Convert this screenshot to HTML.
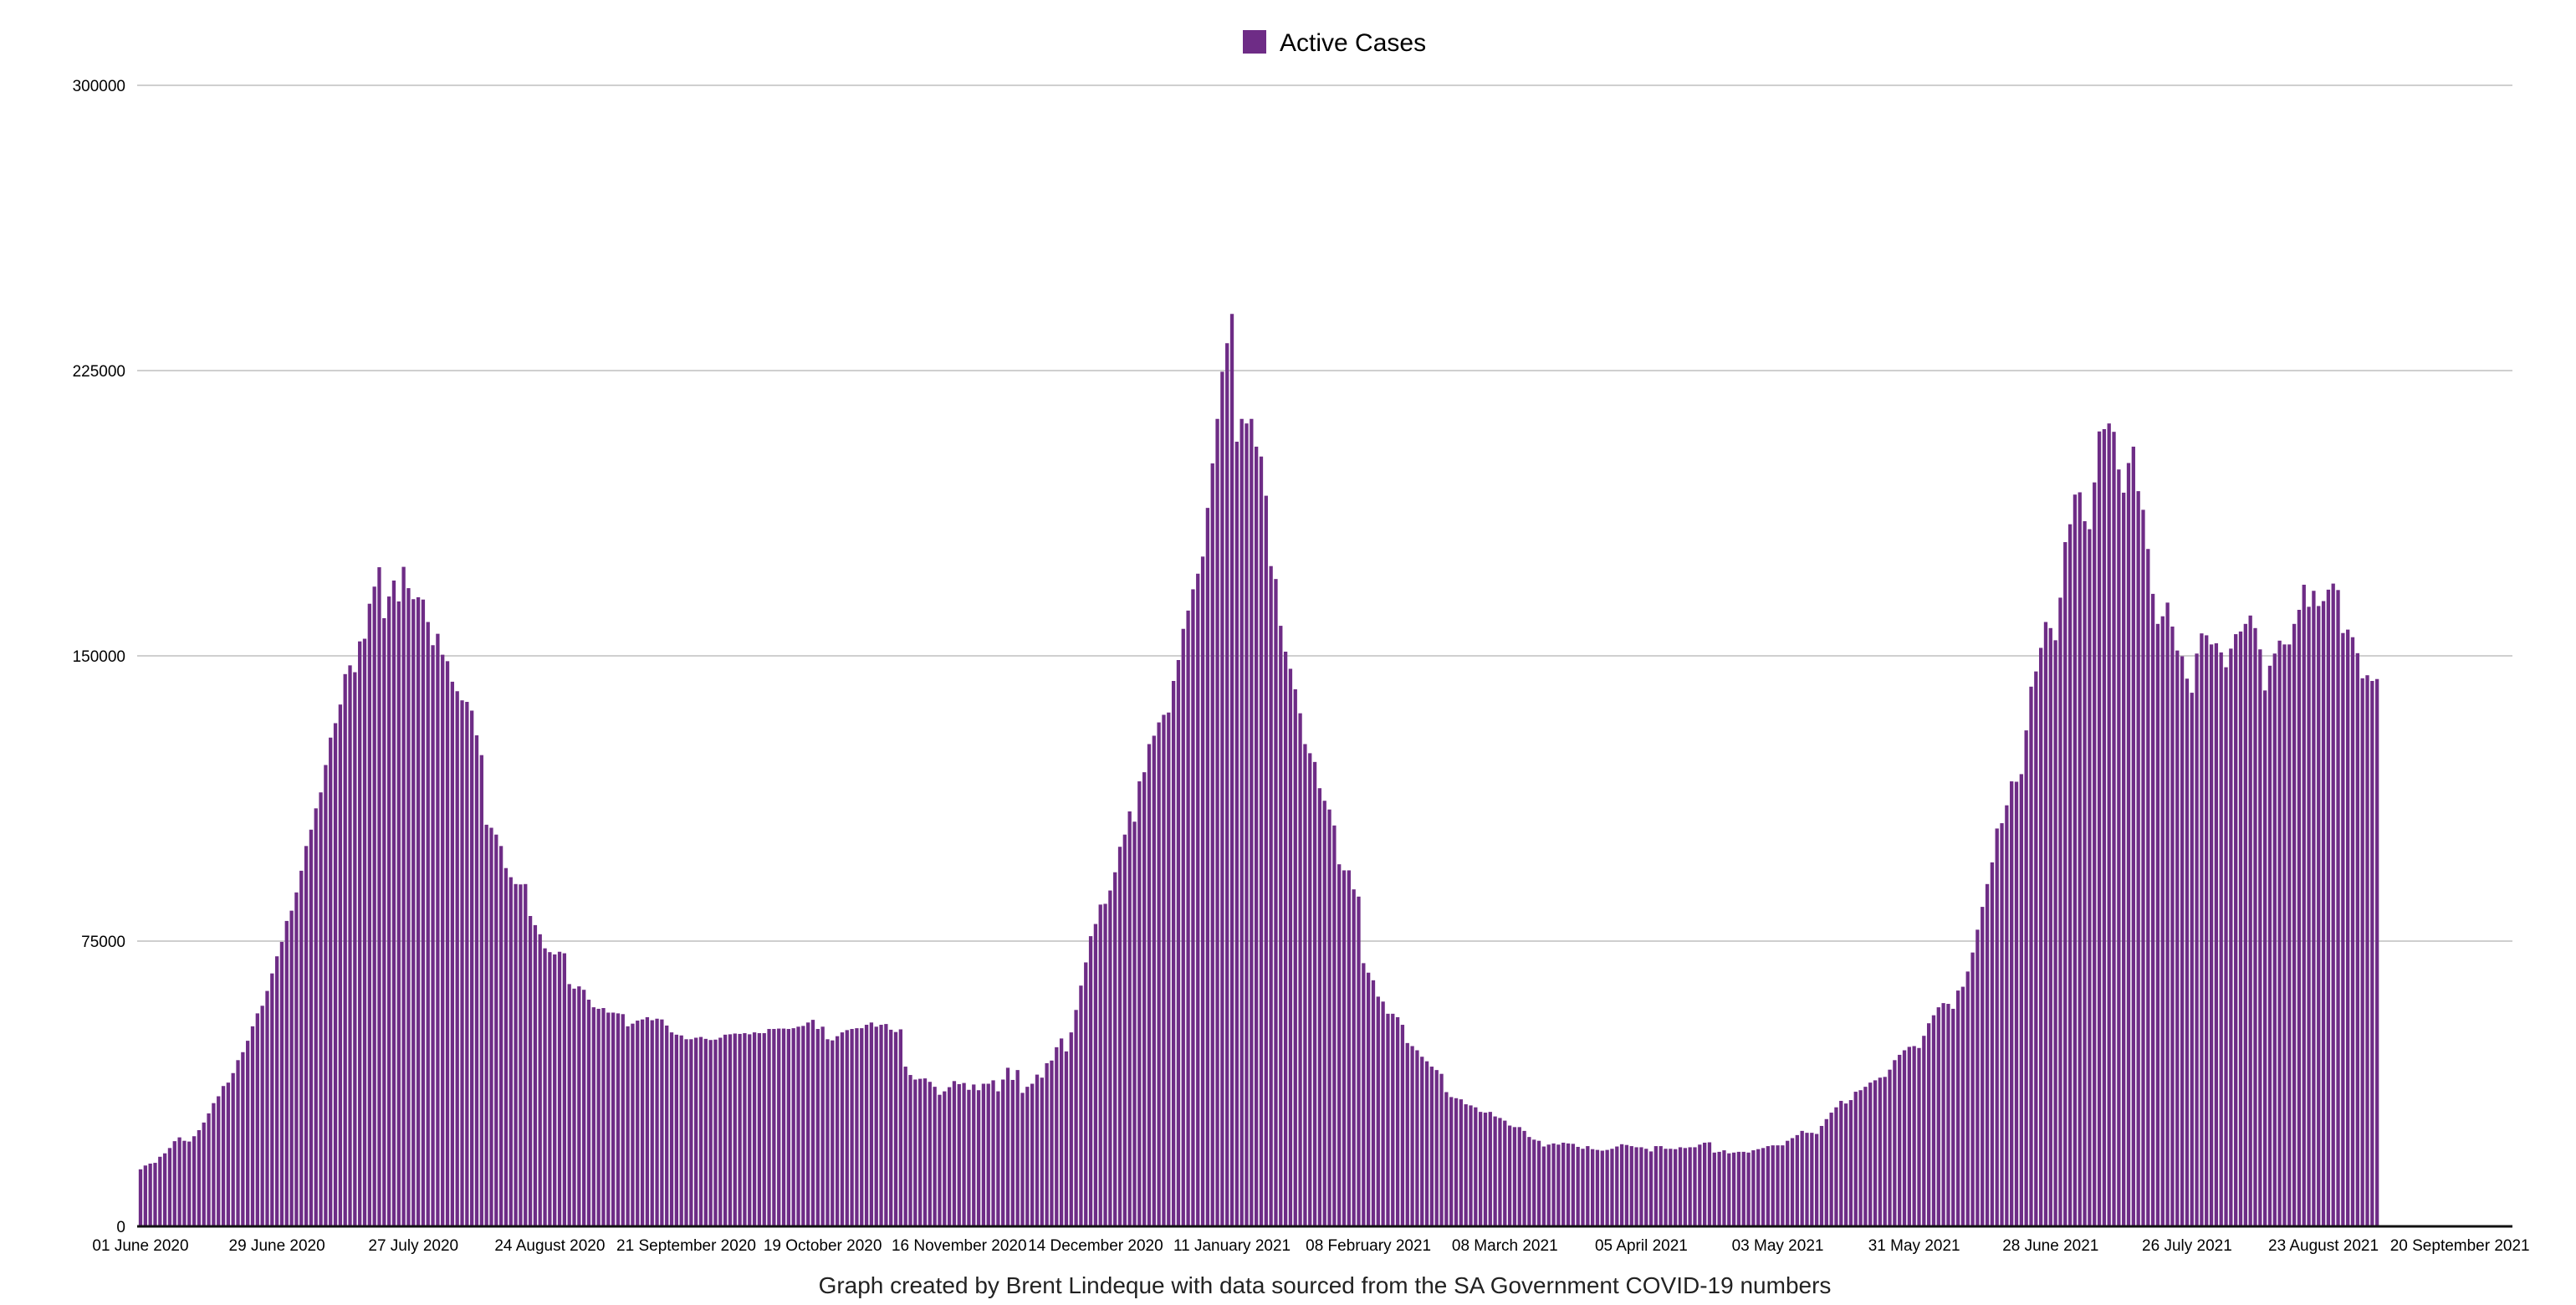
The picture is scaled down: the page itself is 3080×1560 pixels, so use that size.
<!DOCTYPE html>
<html>
<head>
<meta charset="utf-8">
<style>
  html,body{margin:0;padding:0;background:#fff;}
  body{width:3080px;height:1560px;overflow:hidden;font-family:"Liberation Sans",sans-serif;}
  svg{display:block;}
</style>
</head>
<body>
<svg id="chart" width="3080" height="1560" viewBox="0 0 3080 1560" xmlns="http://www.w3.org/2000/svg">
  <g id="legend">
    <rect x="1486" y="36" width="28" height="28" fill="#6e2c86"/>
    <text x="1530" y="61" font-size="30" font-family="Liberation Sans, sans-serif" fill="#000">Active Cases</text>
  </g>
  <g id="grid"></g>
  <g id="yticks"></g>
  <g id="bars"></g>
  <g id="xticks"></g>
  <line x1="164" y1="1466" x2="3004" y2="1466" stroke="#111" stroke-width="3"/>
  <text x="1584" y="1546" text-anchor="middle" font-size="28" font-family="Liberation Sans, sans-serif" fill="#222">Graph created by Brent Lindeque with data sourced from the SA Government COVID-19 numbers</text>
</svg>
<script>
// Active cases in thousands, one per day starting 01 June 2020
const wave1 = [15,16,16.5,16.7,18.3,19.2,20.6,22.4,23.4,22.5,22.3,23.7,25.3,27.3,29.7,32.4,34.2,36.9,37.8,40.3,43.7,45.8,48.8,52.6,56,58,61.9,66.5,71,74.8,80.3,83,87.8,93.5,100,104.3,109.9,114.1,121.3,128.5,132.3,137.2,145.2,147.5,145.7,153.8,154.5,163.7,168.2,173.3,159.9,165.6,169.8,164.3,173.4,167.8,164.9,165.4,164.8,158.9,152.8,155.8,150.3,148.6,143.2,140.7,138.3,137.9,135.6,129.1,123.9,105.6,104.8,103,100,94.2,91.8,90,89.9,90,81.6,79.2,76.8,73.1,72.1,71.5,72.2,71.8,63.7,62.5,63.1,62.2,59.6,57.6,57.2,57.4,56.2,56.2,56,55.8,52.6,53.3,54.1,54.4,55,54.2,54.6,54.4,52.8,51,50.4,50.2,49.2,49.2,49.6,49.8,49.3,49,49.1,49.6,50.4,50.5,50.7,50.6,50.8,50.5,51,50.8];
const lull1 = [50.8,51.9,51.9,52,52,51.9,52.1,52.5,52.7,53.6,54.3,51.9,52.5,49.2,48.9,50,51,51.6,51.9,52.1,52.1,53,53.6,52.5,53,53.2,51.7,51.1,51.8,42,39.8,38.6,38.8,38.9,38,36.7,34.6,35.5,36.6,38.2,37.4,37.7,35.9,37.3,35.8,37.5,37.5,38.4,35.5,38.6,41.7,38.5,41.1];
const wave2 = [35.1,36.7,37.5,39.9,39.1,42.9,43.6,47.1,49.4,46,51,56.9,63.3,69.4,76.3,79.5,84.6,84.8,88.3,93.1,99.8,103,109.1,106.4,117,119.4,126.8,129,132.5,134.5,135.1,143.4,148.9,157.1,161.9,167.5,171.6,176.1,188.9,200.6,212.3,224.7,232.2,239.9,206.3,212.3,211.1,212.3,205,202.4,192.1,173.6,170.2,157.9,151.1,146.6,141.2,134.9,126.8,124.4,122.1,115.2,111.9,109.6,105.4,95.2,93.6,93.6,88.6,86.7,69.2,66.7,64.7,60.4,59.1,55.9,55.9,55,53,48.2,47.4,46.3,44.6,43.4];
const lull2 = [42,41.1,40.1,35.3,34,33.7,33.4,32.1,31.8,31.3,30.1,29.9,30.1,28.9,28.5,27.8,26.5,26.1,26.1,25.1,23.5,22.8,22.5,21,21.5,21.8,21.5,22,21.8,21.7,20.9,20.4,21.1,20.3,20.1,19.9,20.1,20.4,21,21.6,21.4,21.1,20.8,20.8,20.4,19.7,21.1,21.1,20.4,20.4,20.3,20.8,20.6,20.8,20.8,21.5,22,22.1,19.4,19.6,20,19.2,19.4,19.6,19.6,19.4,20,20.3,20.6,21.1,21.3,21.3,21.3,22.5,23.2,24,25.1,24.6,24.6,24.3,26.4,28.2,29.9,31.3,33,32.3,33.2,35.4,35.8,36.7,37.8,38.4,39.1,39.3,41.2,43.7,45.1,46.3,47.2,47.4,46.9,50.1,53.4,55.5,57.6,58.7,58.5,57.2,62,63,67,72,78,84,90];
const wave3 = [95.7,104.6,106,110.7,117,116.9,118.9,130.4,141.9,145.9,152.1,158.9,157.3,154.1,165.3,179.9,184.6,192.4,193,185.4,183.3,195.6,209,209.6,211.1,208.9,199,192.9,200.7,205,193.3,188.4,178.1,166.3,158.4,160.4,164,157.7,151.4,149.9,144,140.3,150.6,155.9,155.4,153,153.3,150.9,147,151.9,155.7,156.4,158.4,160.6,157.3,151.7,140.9,147.4,150.6,154,153,153,158.4,162.1,168.7,162.9,167.1,163.1,164.4,167.4,169,167.3,156,156.9,154.9,150.7,144.1,144.9,143.4,143.9];
const yTicks = [0, 75, 150, 225, 300];
const yTickLabels = ["0", "75000", "150000", "225000", "300000"];
const xTickDays = [0,28,56,84,112,140,168,196,224,252,280,308,336,364,392,420,448,476];
const xTickLabels = ["01 June 2020","29 June 2020","27 July 2020","24 August 2020","21 September 2020","19 October 2020","16 November 2020","14 December 2020","11 January 2021","08 February 2021","08 March 2021","05 April 2021","03 May 2021","31 May 2021","28 June 2021","26 July 2021","23 August 2021","20 September 2021"];

const values = wave1.concat(lull1, wave2, lull2, wave3);
const NS = "http://www.w3.org/2000/svg";
const X0 = 168, DX = 5.826, Y0 = 1466, YK = (1466 - 102) / 300;
function xScale(i){ return X0 + i * DX; }
function yScale(v){ return Y0 - v * YK; }

const grid = document.getElementById('grid');
const yt = document.getElementById('yticks');
yTicks.forEach((t, k) => {
  if (t > 0) {
    const l = document.createElementNS(NS, 'line');
    
    
    l.setAttribute('x1', 164); l.setAttribute('x2', 3004);
    l.setAttribute('y1', yScale(t)); l.setAttribute('y2', yScale(t));
    l.setAttribute('stroke', '#cfcfcf'); l.setAttribute('stroke-width', '2');
    grid.appendChild(l);
  }
  const tx = document.createElementNS(NS, 'text');
  
  
  tx.setAttribute('x', 150); tx.setAttribute('y', yScale(t) + 7);
  tx.setAttribute('text-anchor', 'end');
  tx.setAttribute('font-size', '19');
  tx.setAttribute('font-family', 'Liberation Sans, sans-serif');
  tx.textContent = yTickLabels[k];
  yt.appendChild(tx);
});

const bars = document.getElementById('bars');
const BW = 4.3;
values.forEach((v, i) => {
  const r = document.createElementNS(NS, 'rect');
  
  
  r.setAttribute('x', (xScale(i) - BW / 2).toFixed(2));
  r.setAttribute('y', yScale(v).toFixed(2));
  r.setAttribute('width', BW);
  r.setAttribute('height', (Y0 - yScale(v)).toFixed(2));
  r.setAttribute('fill', '#6e2c86');
  bars.appendChild(r);
});

const xt = document.getElementById('xticks');
xTickDays.forEach((d, k) => {
  const tx = document.createElementNS(NS, 'text');
  
  
  tx.setAttribute('x', xScale(d)); tx.setAttribute('y', 1495);
  tx.setAttribute('text-anchor', 'middle');
  tx.setAttribute('font-size', '19');
  tx.setAttribute('font-family', 'Liberation Sans, sans-serif');
  tx.textContent = xTickLabels[k];
  xt.appendChild(tx);
});
</script>
</body>
</html>
